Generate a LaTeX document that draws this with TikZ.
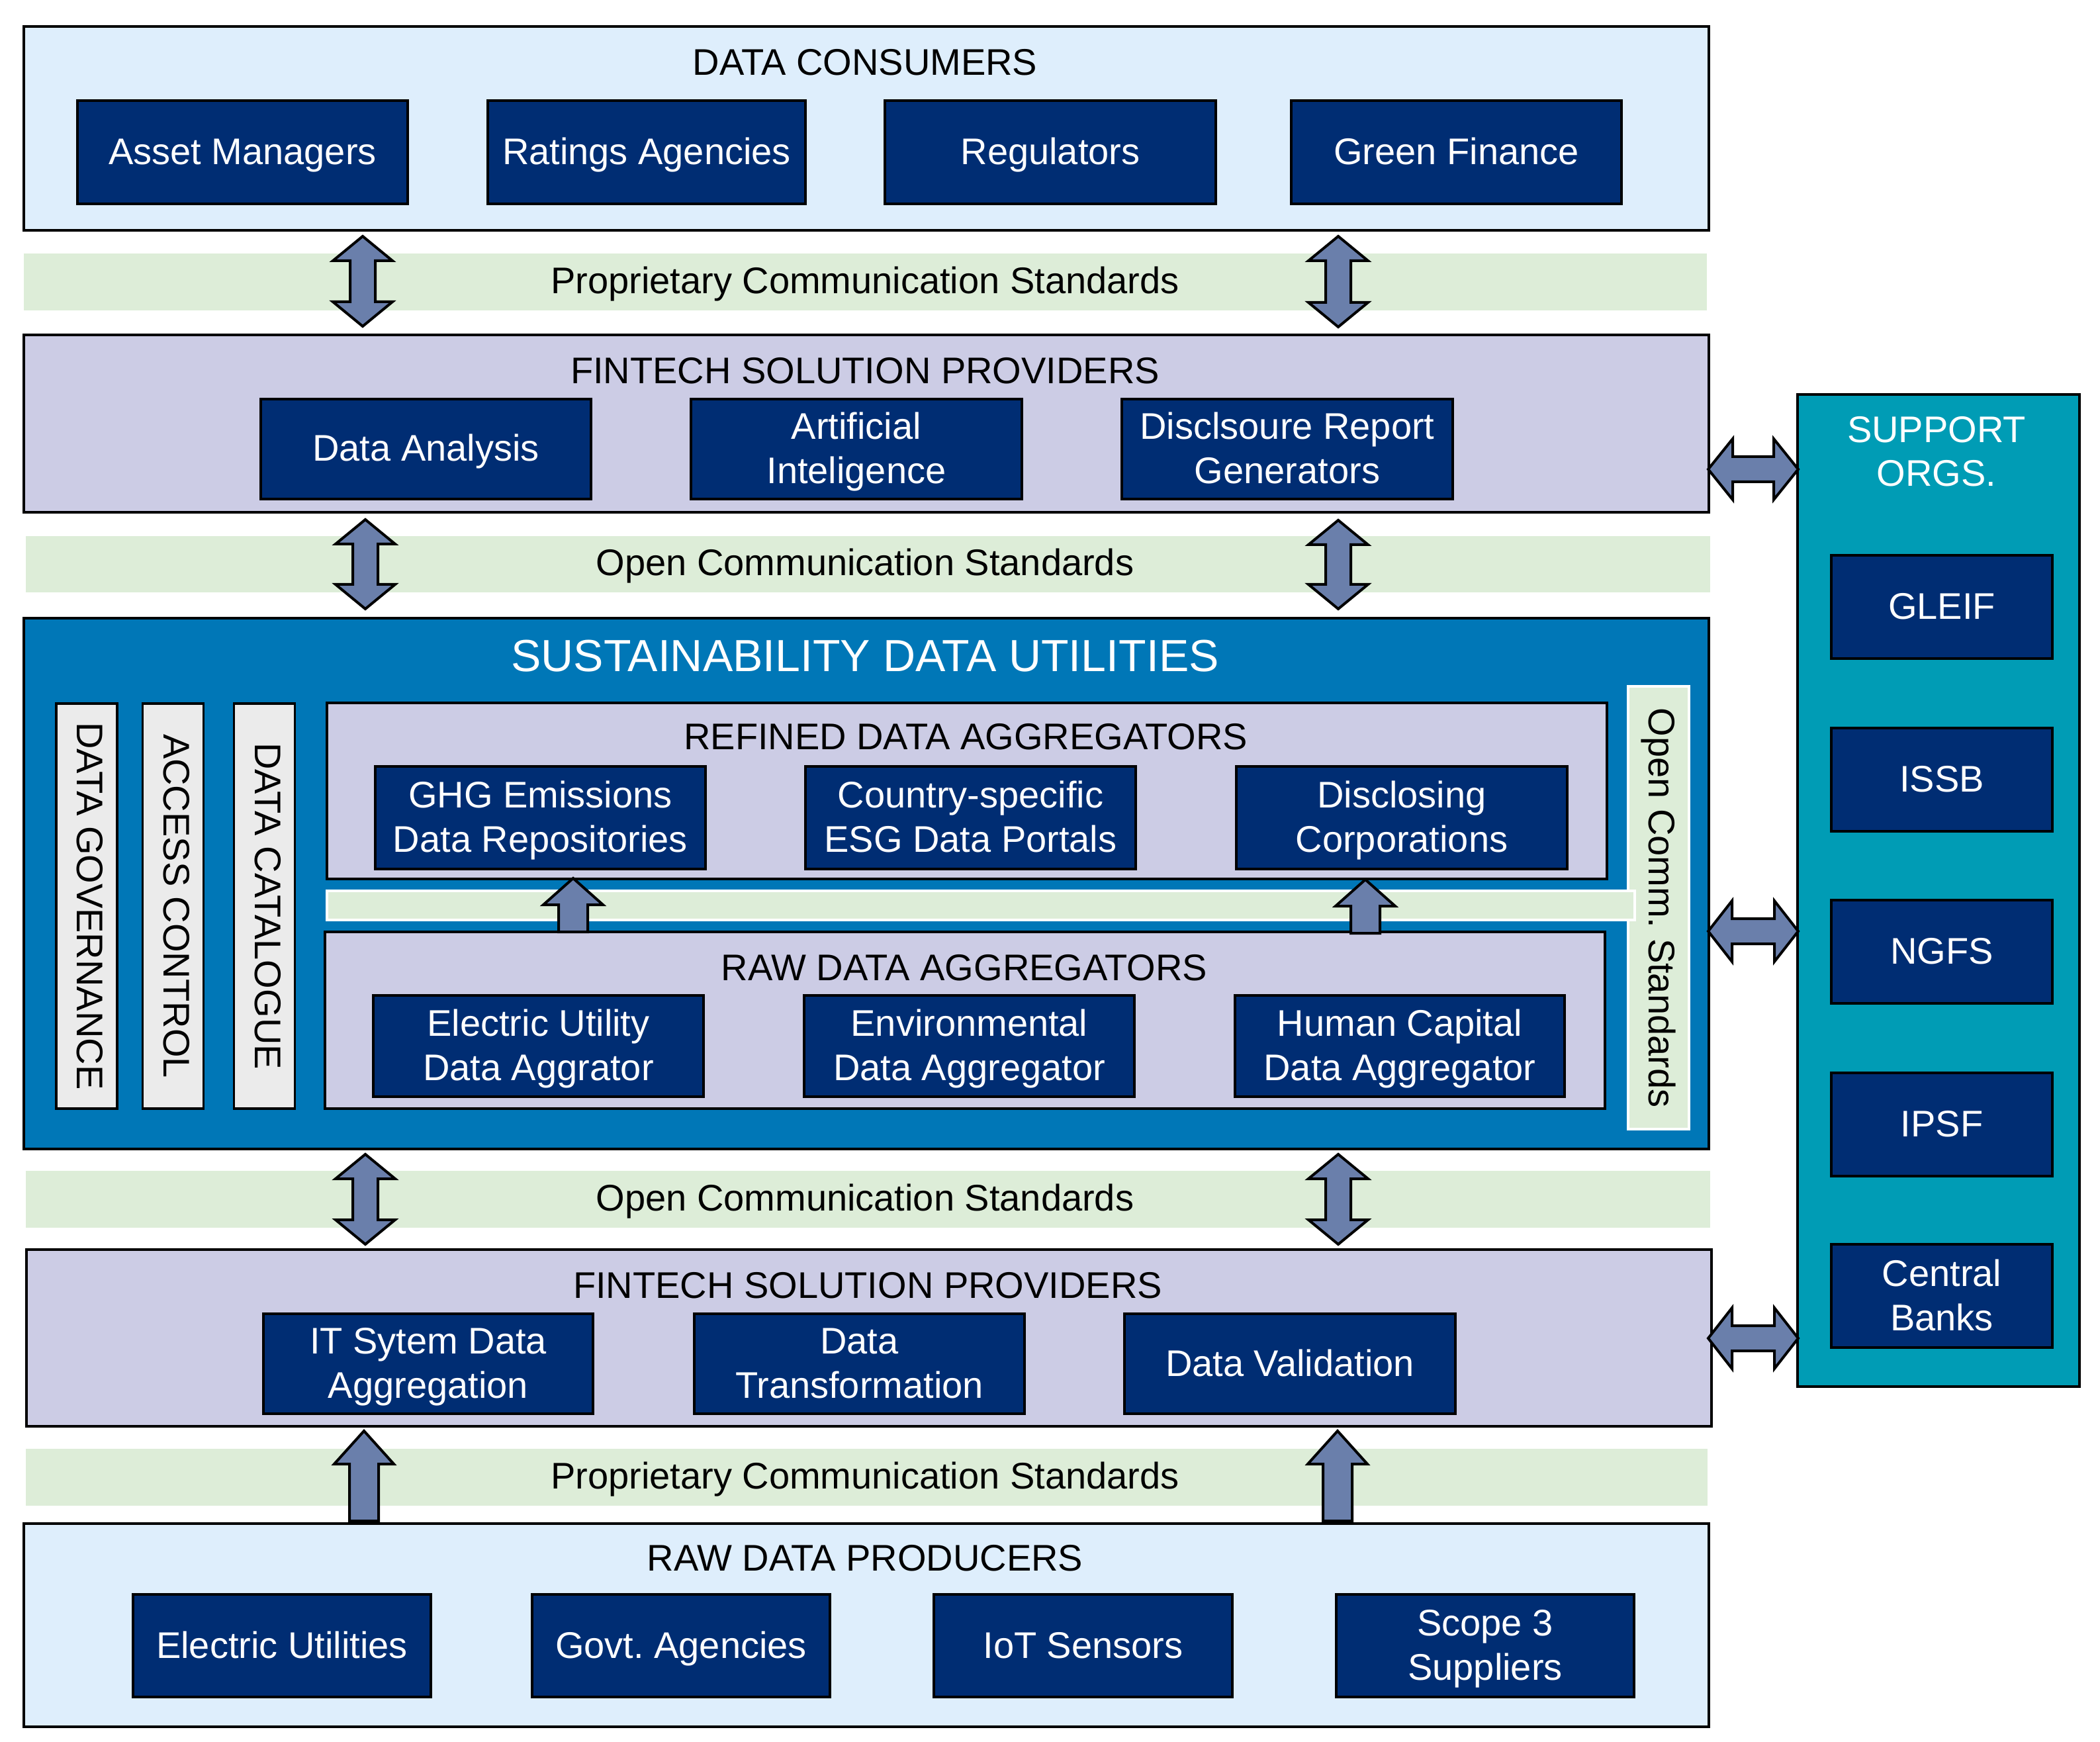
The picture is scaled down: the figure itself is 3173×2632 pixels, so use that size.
\documentclass[tikz,border=0pt]{standalone}
\usepackage{fontspec}
\setmainfont{Liberation Sans}
\frenchspacing
\definecolor{lightbg}{HTML}{DEEEFC}
\definecolor{lav}{HTML}{CCCCE5}
\definecolor{navy}{HTML}{002D73}
\definecolor{bandgreen}{HTML}{DDEDD8}
\definecolor{sdublue}{HTML}{0077B7}
\definecolor{supteal}{HTML}{009CB5}
\definecolor{arrowfill}{HTML}{6A7FAB}
\definecolor{bargray}{HTML}{EBEBEB}
\newcommand\fsnorm{\fontsize{14}{16.75}\selectfont}
\newcommand\dd{\vphantom{g}}
\newcommand\uu{\rule{0pt}{12.2pt}}
\tikzset{
  wh/.style 2 args={minimum width=#1*0.25pt, minimum height=#2*0.25pt},
  panel/.style={rectangle, draw=black, line width=0.9pt, inner sep=0pt},
  item/.style={panel, fill=navy, text=white, align=center, font=\fsnorm},
  one/.style={text height=11.2pt, text depth=1.95pt},
  onebar/.style={text height=10.2pt, text depth=2.95pt},
  ttl/.style={font=\fsnorm, inner sep=0pt, anchor=base},
  bandsty/.style={rectangle, fill=bandgreen, draw=none, inner sep=0pt},
  barsty/.style={panel, fill=bargray, rotate=-90, font=\fsnorm, onebar},
  blockarrow/.style={fill=arrowfill, draw=black, line width=1pt, line join=miter},
}
% vertical double arrow: cx, top, bottom, head length
\newcommand\VDArrow[4]{%
  \draw[blockarrow] (#1,#2) -- ++(45,#4) -- ++(-26,0) -- ++(0,{#3-#2-2*#4}) -- ++(26,0)
    -- ++(-45,#4) -- ++(-45,-#4) -- ++(26,0) -- ++(0,{-(#3-#2-2*#4)}) -- ++(-26,0) -- cycle;}
% up arrow: cx, tip, base, head length, shaft half width
\newcommand\UpArrow[5]{%
  \draw[blockarrow] (#1,#2) -- ++(45,#4) -- ++({-45+#5},0) -- ++(0,{#3-#2-#4}) -- ++({-2*#5},0)
    -- ++(0,{-(#3-#2-#4)}) -- ++({-45+#5},0) -- cycle;}
% horizontal double arrow: left, right, cy, head length
\newcommand\HDArrow[4]{%
  \draw[blockarrow] (#1,#3) -- ++(#4,-46) -- ++(0,27) -- ++({#2-#1-2*#4},0) -- ++(0,-27)
    -- ++(#4,46) -- ++(-#4,46) -- ++(0,-27) -- ++({-(#2-#1-2*#4)},0) -- ++(0,27) -- cycle;}
\begin{document}
\begin{tikzpicture}[x=0.25pt,y=-0.25pt]
\useasboundingbox (0,0) rectangle (3173,2632);
% ---------- layers ----------
\node[panel, fill=lightbg, wh={2546}{308}] (dc) at (1309,194) {};
\node[ttl] (dct) at (1307,114) {DATA CONSUMERS};
\node[bandsty, wh={2543}{86}] (b1) at (1307.5,426) {};
\node[ttl] (b1t) at (1307,444) {Proprietary Communication Standards};
\node[panel, fill=lav, wh={2546}{268}] (fsp1) at (1309,640) {};
\node[ttl] (fsp1t) at (1307,580) {FINTECH SOLUTION PROVIDERS};
\node[bandsty, wh={2545}{85}] (b2) at (1311.5,852.5) {};
\node[ttl] (b2t) at (1307,870) {Open Communication Standards};
\node[panel, fill=sdublue, wh={2546}{802}] (sdu) at (1309,1335) {};
\node[ttl, text=white, font=\fontsize{17}{20}\selectfont] (sdut) at (1307,1015) {SUSTAINABILITY DATA UTILITIES};
\node[bandsty, wh={2545}{86}] (b3) at (1311.5,1812) {};
\node[ttl] (b3t) at (1307,1829) {Open Communication Standards};
\node[panel, fill=lav, wh={2546}{267}] (fsp2) at (1313,2021.5) {};
\node[ttl] (fsp2t) at (1311,1961) {FINTECH SOLUTION PROVIDERS};
\node[bandsty, wh={2541}{86}] (b4) at (1309.5,2232) {};
\node[ttl] (b4t) at (1307,2249) {Proprietary Communication Standards};
\node[panel, fill=lightbg, wh={2546}{307}] (rdp) at (1309,2455.5) {};
\node[ttl] (rdpt) at (1307,2373) {RAW DATA PRODUCERS};
% ---------- support orgs ----------
\node[panel, fill=supteal, wh={426}{1499}] (sup) at (2929,1345.5) {};
\node[ttl, text=white] (supt1) at (2926,669) {SUPPORT};
\node[ttl, text=white] (supt2) at (2926,735) {ORGS.};
\node[item, one, wh={334}{156}] (gleif) at (2934,917) {GLEIF};
\node[item, one, wh={334}{156}] (issb) at (2934,1178) {ISSB};
\node[item, one, wh={334}{156}] (ngfs) at (2934,1438) {NGFS};
\node[item, one, wh={334}{156}] (ipsf) at (2934,1699) {IPSF};
\node[item, wh={334}{156}] (cb) at (2934,1958) {\uu Central\\Banks\dd};
% ---------- data consumers ----------
\node[item, one, wh={499}{156}] (am) at (366.5,230) {Asset Managers};
\node[item, one, wh={480}{156}] (ra) at (977,230) {Ratings Agencies};
\node[item, one, wh={500}{156}] (reg) at (1587,230) {Regulators};
\node[item, one, wh={499}{156}] (gf) at (2200.5,230) {Green Finance};
% ---------- fintech 1 ----------
\node[item, one, wh={499}{151}] (da) at (643.5,678.5) {Data Analysis};
\node[item, wh={500}{151}] (ai) at (1294,678.5) {\uu Artificial\\Inteligence\dd};
\node[item, wh={500}{151}] (dr) at (1945,678.5) {\uu Disclsoure Report\\Generators\dd};
% ---------- SDU inner ----------
\node[barsty, wh={612}{92}] (dg) at (131,1369) {DATA GOVERNANCE};
\node[barsty, wh={612}{92}] (acc) at (261.5,1369) {ACCESS CONTROL};
\node[barsty, wh={612}{92}] (dcat) at (399.5,1369) {DATA CATALOGUE};
\node[rectangle, fill=bandgreen, draw=white, line width=0.8pt, inner sep=0pt, rotate=-90, font=\fsnorm, onebar, wh={669}{92}] (ocs) at (2506,1371.5) {Open Comm. Standards};
\node[panel, fill=lav, wh={1934}{266}] (ref) at (1461,1195) {};
\node[ttl] (reft) at (1459,1132) {REFINED DATA AGGREGATORS};
\node[panel, fill=lav, wh={1934}{267}] (raw) at (1458,1541.5) {};
\node[ttl] (rawt) at (1457,1481) {RAW DATA AGGREGATORS};
\node[rectangle, fill=bandgreen, draw=white, line width=0.8pt, inner sep=0pt, wh={1976}{44}] (ib) at (1482,1368) {};
\node[item, wh={499}{155}] (ghg) at (816.5,1235.5) {\uu GHG Emissions\\Data Repositories\dd};
\node[item, wh={499}{155}] (csp) at (1466.5,1235.5) {\uu Country-specific\\ESG Data Portals\dd};
\node[item, wh={500}{155}] (dcorp) at (2118,1235.5) {\uu Disclosing\\Corporations\dd};
\node[item, wh={499}{153}] (eua) at (813.5,1580.5) {\uu Electric Utility\\Data Aggrator\dd};
\node[item, wh={499}{153}] (env) at (1464.5,1580.5) {\uu Environmental\\Data Aggregator\dd};
\node[item, wh={498}{153}] (hc) at (2115,1580.5) {\uu Human Capital\\Data Aggregator\dd};
% ---------- fintech 2 ----------
\node[item, wh={498}{151}] (its) at (647,2060.5) {\uu IT Sytem Data\\Aggregation\dd};
\node[item, wh={499}{151}] (dt) at (1298.5,2060.5) {\uu Data\\Transformation\dd};
\node[item, one, wh={500}{151}] (dv) at (1949,2060.5) {Data Validation};
% ---------- raw data producers ----------
\node[item, one, wh={450}{155}] (eu) at (426,2486.5) {Electric Utilities};
\node[item, one, wh={450}{155}] (ga) at (1029,2486.5) {Govt. Agencies};
\node[item, one, wh={451}{155}] (iot) at (1636.5,2486.5) {IoT Sensors};
\node[item, wh={450}{155}] (s3) at (2244,2486.5) {\uu Scope 3\\Suppliers\dd};
% ---------- arrows ----------
\VDArrow{548}{357}{493}{37}
\VDArrow{2022}{357}{494}{37}
\VDArrow{552}{785}{920}{37}
\VDArrow{2022}{786}{920}{37}
\VDArrow{552}{1744}{1880}{37}
\VDArrow{2022}{1744}{1880}{37}
\UpArrow{550}{2162}{2298}{50}{22}
\UpArrow{2021}{2162}{2298}{50}{22}
\UpArrow{866}{1327}{1408}{40}{22}
\UpArrow{2063}{1329}{1410}{40}{22}
\HDArrow{2581}{2717}{709}{37}
\HDArrow{2581}{2717}{1407}{36}
\HDArrow{2581}{2717}{2022}{36}
\end{tikzpicture}
\end{document}
